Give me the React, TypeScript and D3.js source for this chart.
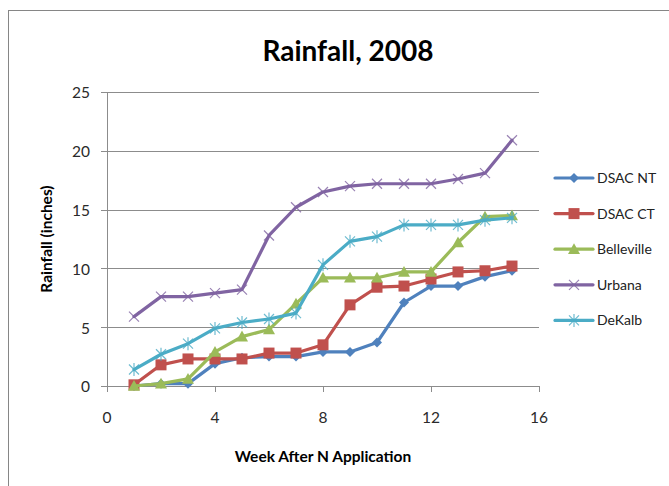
import React from "react";
import * as d3 from "d3";

const weeks = [1, 2, 3, 4, 5, 6, 7, 8, 9, 10, 11, 12, 13, 14, 15];
const dsacNT = [0, 0.2, 0.2, 1.9, 2.4, 2.5, 2.5, 2.9, 2.9, 3.7, 7.1, 8.5, 8.5, 9.3, 9.8];
const dsacCT = [0.1, 1.8, 2.3, 2.3, 2.3, 2.8, 2.8, 3.5, 6.9, 8.4, 8.5, 9.1, 9.7, 9.8, 10.2];
const belleville = [0, 0.2, 0.6, 2.9, 4.2, 4.8, 7.0, 9.2, 9.2, 9.2, 9.7, 9.7, 12.2, 14.4, 14.5];
const urbana = [5.9, 7.6, 7.6, 7.9, 8.2, 12.8, 15.2, 16.5, 17.0, 17.2, 17.2, 17.2, 17.6, 18.1, 20.9];
const dekalb = [1.4, 2.7, 3.6, 4.9, 5.4, 5.7, 6.2, 10.3, 12.3, 12.7, 13.7, 13.7, 13.7, 14.1, 14.3];

const seriesNames = ["DSAC NT", "DSAC CT", "Belleville", "Urbana", "DeKalb"];
const seriesValues = [dsacNT, dsacCT, belleville, urbana, dekalb];
const seriesColors = ["#4F81BD", "#C0504D", "#9BBB59", "#8064A2", "#4BACC6"];
const markerKinds = ["diamond", "square", "triangle", "x", "star"];

const xTicks = [0, 4, 8, 12, 16];
const yTicks = [0, 5, 10, 15, 20, 25];

const FONT = "Lato, 'Open Sans', sans-serif";

function Marker({ kind, x, y, color }: { kind: string; x: number; y: number; color: string }) {
  if (kind === "diamond") {
    const r = 5;
    return <path d={`M${x},${y - r}L${x + r},${y}L${x},${y + r}L${x - r},${y}Z`} fill={color} />;
  }
  if (kind === "square") {
    const r = 5.5;
    return <rect x={x - r} y={y - r} width={2 * r} height={2 * r} fill={color} />;
  }
  if (kind === "triangle") {
    const r = 6;
    return <path d={`M${x},${y - r}L${x + r},${y + r * 0.8}L${x - r},${y + r * 0.8}Z`} fill={color} />;
  }
  if (kind === "x") {
    const r = 5;
    return (
      <path
        d={`M${x - r},${y - r}L${x + r},${y + r}M${x - r},${y + r}L${x + r},${y - r}`}
        stroke={color}
        strokeWidth={1.2}
        opacity={0.8}
      />
    );
  }
  const r = 5;
  return (
    <path
      d={`M${x - r},${y - r}L${x + r},${y + r}M${x - r},${y + r}L${x + r},${y - r}M${x},${y - r - 1.5}L${x},${y + r + 1.5}`}
      stroke={color}
      strokeWidth={1.2}
      opacity={0.8}
    />
  );
}

export default function App() {
  const W = 669;
  const H = 486;
  const left = 107;
  const right = 539;
  const top = 92;
  const bottom = 386;

  const x = d3.scaleLinear().domain([0, 16]).range([left, right]);
  const y = d3.scaleLinear().domain([0, 25]).range([bottom, top]);

  const line = d3
    .line<number>()
    .x((_, i) => x(weeks[i]))
    .y((d) => y(d));

  const legendX = 555;
  const legendY0 = 178;
  const legendStep = 35.6;

  return (
    <svg
      width={W}
      height={H}
      style={{ position: "absolute", left: 0, top: 0, background: "#fff" }}
      fontFamily={FONT}
    >
      <rect x={0} y={0} width={W} height={H} fill="#fff" />
      <rect x={8.5} y={10.5} width={W + 10} height={H + 10} fill="none" stroke="#868686" strokeWidth={1} />

      <text x={348} y={61} textAnchor="middle" fontSize={28} fontWeight="bold" fill="#000">
        Rainfall, 2008
      </text>

      {/* gridlines */}
      {yTicks.map((t) => (
        <line
          key={"g" + t}
          x1={left - 6}
          x2={right}
          y1={Math.round(y(t)) + 0.5}
          y2={Math.round(y(t)) + 0.5}
          stroke="#8C8C8C"
          strokeWidth={1}
        />
      ))}
      {/* y axis */}
      <line x1={left + 0.5} x2={left + 0.5} y1={top} y2={bottom} stroke="#8C8C8C" />
      {/* x ticks */}
      {xTicks.map((t) => (
        <line
          key={"xt" + t}
          x1={Math.round(x(t)) + 0.5}
          x2={Math.round(x(t)) + 0.5}
          y1={bottom}
          y2={bottom + 6}
          stroke="#8C8C8C"
        />
      ))}
      {yTicks.map((t) => (
        <text key={"yl" + t} x={left - 17} y={y(t) + 1} dy="0.35em" textAnchor="end" fontSize={15.5} fill="#2a2a2a">
          {t}
        </text>
      ))}
      {xTicks.map((t) => (
        <text key={"xl" + t} x={x(t)} y={418} dy="0.35em" textAnchor="middle" fontSize={15.5} fill="#2a2a2a">
          {t}
        </text>
      ))}

      <text x={323} y={462} textAnchor="middle" fontSize={15.5} fontWeight="bold" fill="#000">
        Week After N Application
      </text>
      <text
        transform={`translate(52,${(top + bottom) / 2}) rotate(-90)`}
        textAnchor="middle"
        fontSize={15.5}
        fontWeight="bold"
        fill="#000"
      >
        Rainfall (inches)
      </text>

      {seriesValues.map((vals, si) => (
        <g key={"s" + si}>
          <path
            d={line(vals) || ""}
            fill="none"
            stroke={seriesColors[si]}
            strokeWidth={3.2}
            strokeLinejoin="round"
            strokeLinecap="round"
          />
          {vals.map((v, i) => (
            <Marker key={i} kind={markerKinds[si]} x={x(weeks[i])} y={y(v)} color={seriesColors[si]} />
          ))}
        </g>
      ))}

      {seriesNames.map((name, i) => {
        const ly = legendY0 + i * legendStep;
        return (
          <g key={"l" + name}>
            <line
              x1={legendX}
              x2={legendX + 38}
              y1={ly}
              y2={ly}
              stroke={seriesColors[i]}
              strokeWidth={3.2}
              strokeLinecap="round"
            />
            <Marker kind={markerKinds[i]} x={legendX + 19} y={ly} color={seriesColors[i]} />
            <text x={legendX + 42} y={ly} dy="0.35em" fontSize={14} fill="#222">
              {name}
            </text>
          </g>
        );
      })}
    </svg>
  );
}
